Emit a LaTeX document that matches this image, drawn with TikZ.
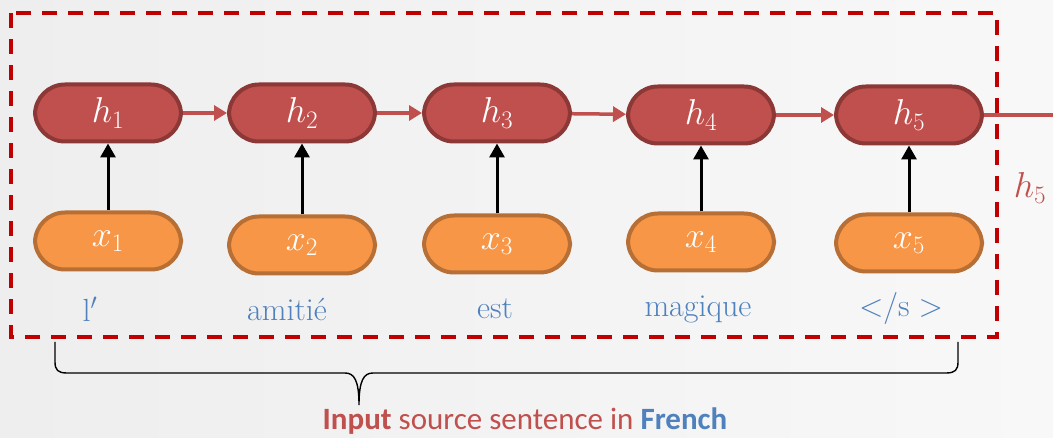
\RequirePackage{fix-cm}
\documentclass[tikz,border=0pt]{standalone}
\usepackage{fontspec}
\newfontfamily\carl{Carlito}
\usetikzlibrary{arrows.meta}
\definecolor{hfill}{HTML}{C0504D}
\definecolor{hline}{HTML}{8C3836}
\definecolor{xfill}{HTML}{F79646}
\definecolor{xline}{HTML}{B86F35}
\definecolor{wordblue}{HTML}{4F81BD}
\definecolor{framered}{HTML}{C00000}
\definecolor{bgleft}{HTML}{EEEEEE}
\definecolor{bgright}{HTML}{F8F8F8}
\tikzset{
  cell/.style={rounded corners=30pt, minimum width=146pt, minimum height=57pt,
    line width=4pt, text=white, font=\fontsize{36}{36}\selectfont},
  hcell/.style={cell, fill=hfill, draw=hline},
  xcell/.style={cell, fill=xfill, draw=xline},
  word/.style={text=wordblue, font=\fontsize{32}{32}\selectfont},
  recur/.style={draw=hfill, line width=3.5pt, -{Triangle[length=13pt,width=15pt]}},
  feed/.style={draw=black, line width=3pt, -{Triangle[length=14pt,width=15pt]}},
  frame/.style={draw=framered, line width=4pt, dash pattern=on 15pt off 11pt},
}
\begin{document}
\begin{tikzpicture}[x=1pt,y=-1pt]
  % canvas
  \shade[left color=bgleft, right color=bgright] (0,0) rectangle (1053,438);
  \useasboundingbox (0,0) rectangle (1053,438);

  % encoder frame
  \draw[frame] (11,13) rectangle (997,337);

  % hidden states
  \node[hcell] (h1) at (108,113) {$h_1$};
  \node[hcell] (h2) at (302,113) {$h_2$};
  \node[hcell] (h3) at (497,113) {$h_3$};
  \node[hcell] (h4) at (701,115) {$h_4$};
  \node[hcell] (h5) at (909,115) {$h_5$};

  % inputs
  \node[xcell] (x1) at (108,241) {$x_1$};
  \node[xcell] (x2) at (302,245) {$x_2$};
  \node[xcell] (x3) at (497,244) {$x_3$};
  \node[xcell] (x4) at (701,242) {$x_4$};
  \node[xcell] (x5) at (909,243) {$x_5$};

  % source words
  \node[word] (w1) at (90,309) {l$'$};
  \node[word] (w2) at (287,309) {amitié};
  \node[word] (w3) at (495,309) {est};
  \node[word] (w4) at (698,309) {magique};
  \node[word] (w5) at (901,309) {${<}/\mathrm{s}\;{>}$};

  % recurrent links
  \draw[recur] (h1) -- (h2);
  \draw[recur] (h2) -- (h3);
  \draw[recur] (h3) -- (h4);
  \draw[recur] (h4) -- (h5);
  \coordinate (out) at (1053,115);
  \draw[draw=hfill, line width=3.5pt] (h5) -- (out);
  \node[text=hfill, font=\fontsize{36}{36}\selectfont] (hlab) at (1030,188) {$h_5$};

  % input links
  \foreach \i in {1,...,5} {
    \draw[feed] (x\i.north) -- (h\i.south);
  }

  % brace under the frame
  \draw[line width=1.4pt, black]
    (55,342) -- (55,362) .. controls (55,370) and (58,373) .. (67,373)
    -- (345,373) .. controls (354,373) and (359,380) .. (359,405)
    .. controls (359,380) and (364,373) .. (373,373)
    -- (946,373) .. controls (955,373) and (958,370) .. (958,362) -- (958,342);

  % caption
  \node[font=\carl\fontsize{31}{31}\selectfont, text=hfill] (cap) at (525,421)
    {\textbf{Input} source sentence in \textcolor{wordblue}{\textbf{French}}};
\end{tikzpicture}
\end{document}
